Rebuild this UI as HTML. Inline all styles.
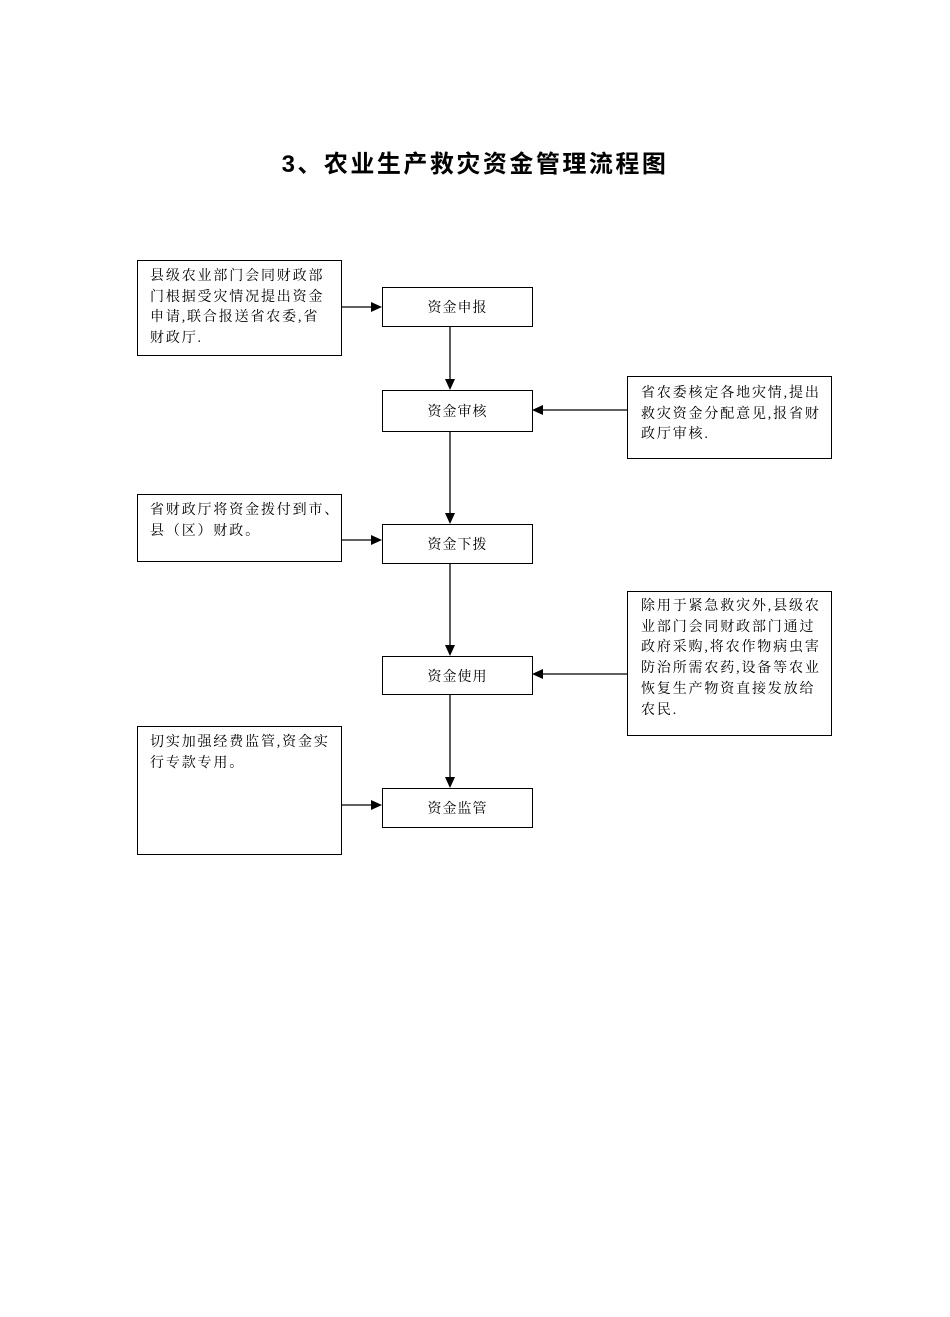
<!DOCTYPE html>
<html><head><meta charset="utf-8"><style>
body{margin:0;width:950px;height:1317px;background:#fff;position:relative;font-family:"Liberation Serif","Noto Serif CJK SC","Noto Sans CJK SC",serif;color:#000}
.b{position:absolute;border:1.3px solid #000;box-sizing:border-box;background:#fff}
.t{position:absolute;font-size:14px;line-height:20.7px;letter-spacing:1.85px;white-space:nowrap}
.c{display:flex;align-items:center;justify-content:center;font-size:14px;letter-spacing:1px}
h1{position:absolute;left:0;width:950px;top:144px;margin:0;text-align:center;font-size:24px;font-weight:bold;letter-spacing:2.5px;font-family:"Liberation Sans","Noto Sans CJK SC",sans-serif}
</style></head><body>
<h1>3、农业生产救灾资金管理流程图</h1>
<svg width="950" height="1317" style="position:absolute;left:0;top:0">
<g stroke="#000" stroke-width="1.3" fill="none">
<line x1="341" y1="307" x2="372" y2="307"/>
<line x1="450" y1="326" x2="450" y2="381"/>
<line x1="627" y1="410" x2="542" y2="410"/>
<line x1="450" y1="431" x2="450" y2="515"/>
<line x1="341" y1="540" x2="372" y2="540"/>
<line x1="450" y1="563" x2="450" y2="647"/>
<line x1="627" y1="674" x2="542" y2="674"/>
<line x1="450" y1="694" x2="450" y2="779"/>
<line x1="341" y1="805" x2="372" y2="805"/>
</g>
<g fill="#000">
<polygon points="382,307 371,302 371,312"/>
<polygon points="450,390 445,379 455,379"/>
<polygon points="532,410 543,405 543,415"/>
<polygon points="450,524 445,513 455,513"/>
<polygon points="382,540 371,535 371,545"/>
<polygon points="450,656 445,645 455,645"/>
<polygon points="532,674 543,669 543,679"/>
<polygon points="450,788 445,777 455,777"/>
<polygon points="382,805 371,800 371,810"/>
</g></svg>
<div class="b" style="left:137px;top:260px;width:205px;height:96px"></div>
<div class="t" style="left:150px;top:267px">县级农业部门会同财政部<br>门根据受灾情况提出资金<br>申请,联合报送省农委,省<br>财政厅.</div>
<div class="b c" style="left:382px;top:287px;width:151px;height:40px">资金申报</div>
<div class="b c" style="left:382px;top:390px;width:151px;height:42px">资金审核</div>
<div class="b" style="left:627px;top:376px;width:205px;height:83px"></div>
<div class="t" style="left:641px;top:384px">省农委核定各地灾情,提出<br>救灾资金分配意见,报省财<br>政厅审核.</div>
<div class="b" style="left:137px;top:494px;width:205px;height:68px"></div>
<div class="t" style="left:150px;top:501px">省财政厅将资金拨付到市、<br>县（区）财政。</div>
<div class="b c" style="left:382px;top:524px;width:151px;height:40px">资金下拨</div>
<div class="b" style="left:627px;top:591px;width:205px;height:145px"></div>
<div class="t" style="left:641px;top:597px">除用于紧急救灾外,县级农<br>业部门会同财政部门通过<br>政府采购,将农作物病虫害<br>防治所需农药,设备等农业<br>恢复生产物资直接发放给<br>农民.</div>
<div class="b c" style="left:382px;top:656px;width:151px;height:39px">资金使用</div>
<div class="b" style="left:137px;top:726px;width:205px;height:129px"></div>
<div class="t" style="left:150px;top:733px">切实加强经费监管,资金实<br>行专款专用。</div>
<div class="b c" style="left:382px;top:788px;width:151px;height:40px">资金监管</div>
</body></html>
